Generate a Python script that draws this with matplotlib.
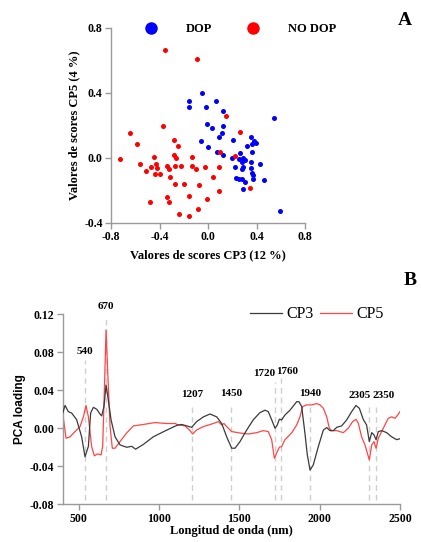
import numpy as np
import matplotlib.pyplot as plt
from matplotlib.lines import Line2D

# ---- panel A: scores ----
dop_x = [-0.052, -0.159, -0.159, 0.063, -0.016, 0.126, -0.005, 0.036, 0.121, 0.115,
         0.088, -0.060, 0.203, 0.355, 0.382, 0.393, 0.363, 0.000, 0.324, 0.077,
         0.126, 0.366, 0.195, 0.264, 0.286, 0.258, 0.305, 0.283, 0.355, 0.429,
         0.225, 0.286, 0.283, 0.352, 0.366, 0.368, 0.228, 0.258, 0.283, 0.308,
         0.371, 0.462, 0.286, 0.547, 0.594]
dop_y = [0.399, 0.350, 0.315, 0.348, 0.313, 0.292, 0.210, 0.183, 0.196, 0.156,
         0.132, 0.107, 0.113, 0.128, 0.105, 0.095, 0.084, 0.068, 0.074, 0.035,
         0.016, 0.037, 0.002, 0.029, -0.002, -0.008, -0.014, -0.027, -0.025, -0.039,
         -0.054, -0.054, -0.070, -0.060, -0.091, -0.107, -0.121, -0.128, -0.128, -0.150,
         -0.128, -0.134, -0.191, 0.243, -0.327]

nodop_x = [-0.357, -0.093, 0.148, -0.371, -0.643, -0.583, -0.723, -0.558, -0.511, -0.443,
           -0.473, -0.429, -0.421, -0.437, -0.396, -0.478, -0.335, -0.324, -0.313, -0.278,
           -0.250, -0.283, -0.267, -0.338, -0.319, -0.269, -0.272, -0.225, -0.239, -0.195,
           -0.159, -0.157, -0.129, -0.129, -0.099, -0.071, -0.080, -0.025, -0.008, 0.044,
           0.093, 0.093, 0.102, 0.261, 0.223, 0.346]
nodop_y = [0.665, 0.611, 0.261, 0.198, 0.156, 0.089, -0.008, -0.035, -0.080, 0.006,
           -0.056, -0.039, -0.064, -0.097, -0.097, -0.268, -0.049, -0.066, -0.117, 0.109,
           0.076, 0.019, -0.002, -0.241, -0.272, -0.158, -0.051, -0.049, -0.344, -0.158,
           -0.235, -0.354, 0.006, -0.051, -0.066, -0.167, -0.313, -0.056, -0.251, -0.117,
           -0.056, -0.204, 0.037, 0.161, 0.012, -0.183]

# ---- panel B: loadings ----
cp3_wl = [400, 415, 435, 456, 487, 518, 539, 560, 574, 591, 612, 632, 643, 657, 670,
          684, 701, 726, 757, 798, 830, 854, 902, 964, 1047, 1110, 1141, 1162, 1203,
          1234, 1276, 1317, 1359, 1390, 1421, 1452, 1473, 1504, 1545, 1587, 1628, 1660,
          1680, 1701, 1722, 1736, 1749, 1763, 1784, 1815, 1857, 1871, 1888, 1908, 1923,
          1940, 1960, 1992, 2023, 2044, 2064, 2085, 2106, 2137, 2168, 2199, 2226, 2247,
          2272, 2292, 2309, 2324, 2338, 2351, 2365, 2386, 2417, 2448, 2479, 2500]
cp3_val = [0.016, 0.024, 0.0175, 0.016, 0.009, -0.009, -0.030, -0.019, 0.016, 0.022,
           0.020, 0.015, 0.013, 0.023, 0.0456, 0.030, 0.009, -0.009, -0.0175, -0.020,
           -0.019, -0.022, -0.017, -0.009, -0.002, 0.003, 0.004, 0.003, 0.001, 0.007,
           0.012, 0.015, 0.012, 0.005, -0.009, -0.021, -0.021, -0.014, -0.002, 0.009,
           0.0165, 0.019, 0.0175, 0.009, 0.000, 0.0035, 0.0095, 0.0088, 0.014, 0.019,
           0.028, 0.028, 0.0228, -0.005, -0.028, -0.044, -0.0386, -0.019, -0.0018, 0.0007,
           -0.0025, -0.0025, 0.001, 0.0025, 0.0088, 0.0175, 0.024, 0.021, 0.009, 0.0035,
           -0.014, -0.0046, -0.007, -0.012, -0.0035, -0.0025, -0.0046, -0.009, -0.012, -0.011]

cp5_wl = [400, 421, 446, 477, 508, 529, 545, 560, 580, 597, 618, 639, 649, 659, 670,
          680, 695, 709, 726, 757, 798, 840, 902, 975, 1047, 1103, 1110, 1162, 1193,
          1209, 1234, 1276, 1338, 1369, 1390, 1404, 1421, 1452, 1504, 1556, 1608, 1649,
          1680, 1701, 1718, 1732, 1749, 1763, 1784, 1825, 1857, 1877, 1894, 1919, 1950,
          1981, 2002, 2023, 2044, 2060, 2075, 2106, 2147, 2178, 2205, 2226, 2241, 2261,
          2282, 2309, 2324, 2338, 2351, 2365, 2396, 2427, 2448, 2469, 2486, 2500]
cp5_val = [0.016, -0.0105, -0.009, -0.0035, 0.0018, 0.012, 0.024, 0.012, -0.019, -0.029,
           -0.027, -0.028, -0.019, 0.037, 0.1035, 0.061, 0.0018, -0.021, -0.021, -0.014,
           -0.005, 0.0025, 0.004, 0.006, 0.005, 0.005, 0.004, 0.0025, -0.0025, -0.006,
           -0.0018, 0.0018, 0.005, 0.007, 0.0035, 0.005, 0.0018, -0.0035, -0.005, -0.006,
           -0.0046, -0.0025, -0.0035, -0.012, -0.0316, -0.026, -0.020, -0.0193, -0.012, -0.005,
           0.0035, 0.012, 0.0228, 0.0246, 0.0246, 0.026, 0.0246, 0.021, 0.012, 0.000,
           -0.0025, -0.0025, -0.0046, 0.000, 0.007, 0.0095, 0.005, -0.009, -0.0175, -0.0333,
           -0.0175, -0.014, -0.021, -0.0105, 0.000, 0.0105, 0.012, 0.0105, 0.014, 0.0175]

band_wl = [540, 670, 1207, 1450, 1720, 1760, 1940, 2305, 2350]
band_top = [0.072, 0.116, 0.023, 0.023, 0.049, 0.053, 0.028, 0.026, 0.026]
band_lbl_x = [540, 670, 1207, 1450, 1655, 1800, 1940, 2250, 2400]
band_lbl_y = [0.081, 0.128, 0.036, 0.037, 0.058, 0.060, 0.037, 0.034, 0.034]

serif = 'Liberation Serif'
grey = '#9a9a9a'

fig = plt.figure(figsize=(4.21, 5.42), dpi=100)

def style_axes(ax):
    for s in ['top', 'right']:
        ax.spines[s].set_visible(False)
    for s in ['left', 'bottom']:
        ax.spines[s].set_color(grey)
        ax.spines[s].set_linewidth(1.0)
    ax.tick_params(direction='out', length=4, width=1, color=grey, pad=2)
    for lab in ax.get_xticklabels() + ax.get_yticklabels():
        lab.set_fontfamily(serif)
        lab.set_fontweight('bold')
        lab.set_fontsize(8.5)

# panel A
axA = fig.add_axes([0.2637, 0.5886, 0.4608, 0.3598])
axA.scatter(dop_x, dop_y, s=13, c='#0000ff', linewidths=0, zorder=3)
axA.scatter(nodop_x, nodop_y, s=13, c='#ff0000', linewidths=0, zorder=3)
axA.set_xlim(-0.8, 0.8)
axA.set_ylim(-0.4, 0.8)
axA.set_xticks([-0.8, -0.4, 0.0, 0.4, 0.8])
axA.set_yticks([-0.4, 0.0, 0.4, 0.8])
axA.xaxis.set_major_formatter(plt.FormatStrFormatter('%.1f'))
axA.yaxis.set_major_formatter(plt.FormatStrFormatter('%.1f'))
style_axes(axA)
axA.set_xlabel('Valores de scores CP3 (12 %)', family=serif, weight='bold', fontsize=9, labelpad=4)
axA.set_ylabel('Valores de scores CP5 (4 %)', family=serif, weight='bold', fontsize=9, labelpad=3)
hA = [Line2D([], [], ls='', marker='o', ms=9, mfc='#0000ff', mec='none'),
      Line2D([], [], ls='', marker='o', ms=9, mfc='#ff0000', mec='none')]
axA.legend(hA, ['DOP', 'NO DOP'], ncol=2, frameon=False, loc='upper left',
           bbox_to_anchor=(0.115, 1.05), prop={'family': serif, 'weight': 'bold', 'size': 9},
           handletextpad=1.8, columnspacing=2.25, borderaxespad=0)

# panel B
axB = fig.add_axes([0.1489, 0.0696, 0.8012, 0.3506])
for wl, top, lx, ly in zip(band_wl, band_top, band_lbl_x, band_lbl_y):
    axB.plot([wl, wl], [-0.075, top], color='#cfcfcf', lw=1, ls=(0, (4, 3)), zorder=1)
    axB.text(lx, ly, str(wl), ha='center', va='center', family=serif,
             weight='bold', fontsize=8)
axB.plot(cp3_wl, cp3_val, color='#3a3a3a', lw=0.9, label='CP3', zorder=3)
axB.plot(cp5_wl, cp5_val, color='#ff4545', lw=0.9, label='CP5', zorder=2)
axB.set_xlim(400, 2500)
axB.set_ylim(-0.08, 0.12)
axB.set_xticks([500, 1000, 1500, 2000, 2500])
axB.set_yticks([-0.08, -0.04, 0.0, 0.04, 0.08, 0.12])
axB.yaxis.set_major_formatter(plt.FormatStrFormatter('%.2f'))
style_axes(axB)
axB.set_xlabel('Longitud de onda (nm)', family=serif, weight='bold', fontsize=9, labelpad=0)
axB.set_ylabel('PCA loading', family='Liberation Sans', weight='bold', fontsize=8.5, labelpad=3)
axB.legend(loc='upper right', bbox_to_anchor=(0.972, 1.075), ncol=2, frameon=False,
           prop={'family': serif, 'size': 11.5}, handlelength=2.0, columnspacing=0.4,
           handletextpad=0.3, borderaxespad=0)

fig.text(0.962, 0.963, 'A', family=serif, weight='bold', fontsize=14, ha='center', va='center')
fig.text(0.975, 0.482, 'B', family=serif, weight='bold', fontsize=14, ha='center', va='center')

fig.savefig('out.png', dpi=100)
